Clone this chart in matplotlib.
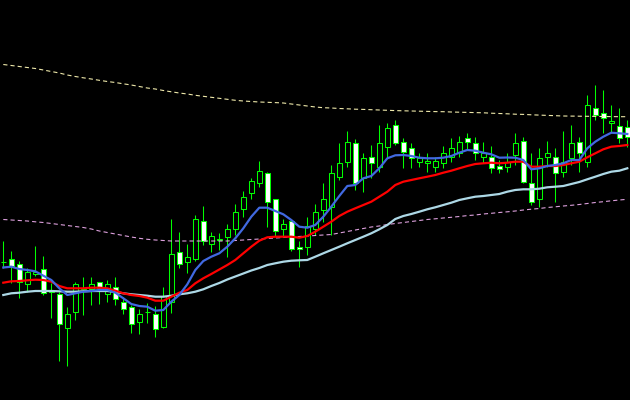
import matplotlib
matplotlib.use("Agg")
import matplotlib.pyplot as plt
from matplotlib.patches import Rectangle

# ---- data (price units, higher = up) ----
opens = [138, 140.7, 135.7, 115.7, 125.7, 130.7, 108.5, 105.7, 72.3, 87.7,
         111, 111, 117.7, 105.7, 112.7, 97.7, 92.7, 77.7, 88, 85.7,
         72.7, 98, 148.3, 138.3, 140.7, 178.7, 155.7, 160.5, 163.3, 170.7,
         190.7, 206.7, 216.7, 226.7, 200.7, 170.7, 179.3, 153.5, 153.5, 171.5,
         190.5, 193.5, 223.3, 238.3, 256.7, 221.7, 243.3, 233.3, 253.3, 275,
         258.3, 251.7, 238.3, 236.7, 233.3, 236.7, 243.3, 247.3, 261.7, 256.7,
         243.3, 243.5, 234, 233.3, 245, 259, 216.7, 200.7, 243.3, 243.3,
         228.3, 241.7, 258.3, 238.3, 291.7, 286.7, 276.7, 274.3, 273.3]
highs = [159, 149, 139, 132, 154, 144, 117, 108.5, 93, 118.3,
         123, 123, 118.5, 120, 123, 103.3, 95, 90.7, 97.3, 94,
         112.7, 181, 168.3, 156, 185, 194, 168, 166.7, 176, 196,
         209, 222, 239, 228.3, 201, 180.7, 180, 159, 183.3, 196,
         217, 235, 257, 269, 261, 247, 255, 275, 277, 280,
         262, 256.7, 246.7, 247, 243.3, 254, 261.7, 264, 266.7, 263.5,
         258.3, 254, 240, 246.7, 267.3, 263.3, 246.7, 251.7, 259, 251.7,
         269, 275, 262.7, 305, 315, 310, 295, 291.7, 280]
lows = [132, 117, 102, 108.5, 124.5, 105, 82.3, 39.5, 34.3, 80,
        85, 95, 95.7, 98, 95, 85.7, 67.3, 65.7, 77.3, 62.7,
        72, 87.3, 131.7, 126.7, 139, 155, 148.3, 150, 143.3, 165,
        183.3, 200.7, 212.7, 173.3, 164, 164, 149, 133.3, 145, 165,
        178, 165, 220, 233.5, 210, 208.5, 222, 228, 243, 255,
        232, 231.7, 233.3, 228.3, 228.3, 231.7, 238.3, 243.3, 250, 240,
        236.7, 226.7, 227.3, 228.3, 235, 217, 195.5, 193.3, 232.7, 198.3,
        223.3, 235, 228.3, 233.3, 280, 266.7, 266.7, 256.7, 253.3]
closes = [138.5, 134, 118.3, 127.7, 128.3, 107.3, 110.5, 75.7, 85.7, 115.7,
          112, 115.7, 112, 115.7, 100.7, 90.7, 75.7, 85.7, 88.5, 70.7,
          104.3, 145.7, 135.7, 143.5, 180.7, 159, 164, 161, 170.7, 188.5,
          203.3, 218.7, 228.7, 198, 169, 176, 150.7, 150.7, 173.7, 188.5,
          200.7, 227, 236.7, 258.3, 216.7, 241.7, 236.7, 256.7, 271.7, 256.7,
          248.3, 241.7, 241.7, 239, 239, 246.7, 251.7, 258.3, 258.3, 246.7,
          246.7, 231.7, 230.7, 238.5, 256.7, 218.3, 198.3, 241.7, 246.7, 226.7,
          238.3, 256.7, 246.7, 295, 285, 281.7, 279.3, 261.7, 263.3]

ma_fast = [132.5, 133.3, 131, 130, 128.7, 124.3, 120, 111.7, 105, 106.7,
           108.3, 109, 110, 110, 107.3, 101.7, 96, 94, 93.3, 89.3,
           90, 98.3, 105, 115.7, 130, 139, 143.3, 146.7, 153.3, 161.7,
           171.7, 183.3, 192.3, 192.3, 189, 185.7, 180, 173.3, 172.3, 175,
           183.3, 193.3, 204, 214, 215, 221.7, 224, 231.7, 241.7, 244.7,
           245, 244, 242.3, 241.7, 241.7, 242.3, 244, 247.3, 250, 249.3,
           247.3, 245.7, 242.3, 242.5, 242.3, 240, 230.7, 231.7, 234, 235,
           236.7, 240, 240, 251.7, 258.3, 263.3, 267.3, 266.7, 266]
ma_mid = [117.3, 118.7, 119, 119.7, 120.3, 120, 118.3, 114, 111.7, 111.7,
          111.7, 112.3, 112.3, 111.7, 109.3, 106.7, 105, 104, 102.3, 99.3,
          99.3, 103.3, 107.3, 110, 116.7, 121.7, 126, 130.5, 135, 140,
          146.7, 153.3, 159.3, 162.7, 163.3, 163.3, 163.3, 162.3, 164, 168.3,
          173.3, 178.3, 184, 188.3, 191.7, 195, 198.3, 203.3, 208.3, 215,
          218.3, 220, 221.7, 223.3, 225, 227.3, 229.3, 231.7, 234, 236,
          236.7, 237.3, 236.7, 237.3, 238.3, 238.3, 233.3, 233.3, 234, 234,
          235, 236.7, 238.3, 242.7, 246.7, 250.7, 253.3, 254, 255]
ma_slow = [105, 106.7, 107.3, 108.3, 109, 109, 109, 108.7, 108.3, 108.3,
           108.7, 109, 109, 109, 108, 106.7, 105.7, 105, 104.3, 103.3,
           103.3, 104.3, 105.7, 106.7, 108.3, 110.7, 114, 117, 120.5, 123.5,
           126.5, 129.5, 132, 135, 136.7, 138.3, 139.3, 139.7, 140, 143.3,
           146.7, 150, 153.3, 156.7, 160, 163.3, 166.7, 170.7, 175, 181,
           184, 186, 188.3, 190.7, 192.7, 195, 197.3, 200, 201.7, 203.3,
           204, 205, 206, 208.3, 210, 210.7, 210.7, 211.3, 212.7, 213.3,
           214, 216, 218, 220.7, 223.3, 226, 228.3, 229.3, 231.7]
band_upper = [335.5, 334.5, 333.5, 332.5, 331.5, 330, 328.5, 327, 325, 323.5,
              322.2, 321, 319.7, 318.5, 317.5, 316.2, 315, 313.5, 312, 311,
              309.5, 308.2, 307, 306, 304.7, 303.7, 302.7, 301.7, 300.7, 299.7,
              299, 298.5, 298, 297.7, 297.4, 297, 296, 295, 294, 293,
              292.3, 292, 291.5, 291.2, 290.8, 290.6, 290.3, 290, 289.7, 289.4,
              289.2, 289, 288.8, 288.6, 288.4, 288.3, 288, 287.8, 287.6, 287.4,
              287.2, 286.8, 286.5, 286.2, 285.8, 285.6, 285.2, 284.9, 284.6, 284.3,
              284, 283.9, 283.8, 283.7, 283.6, 283.5, 283.4, 283.3, 283.3]
band_lower = [180.5, 180, 179.5, 179, 178.2, 177.5, 176.5, 175.5, 174.5, 173.5,
              172.5, 171, 169, 167.5, 166, 164.5, 163, 161.7, 160.7, 160,
              159.5, 159, 159, 159, 159, 159, 159, 159, 159, 159.5,
              160, 160.5, 161, 161.5, 162, 162.5, 163, 163.5, 164, 164.5,
              165, 165.5, 167, 168.5, 170, 171.5, 173, 174, 175.5, 176.5,
              177.5, 178.5, 179.5, 180.5, 181.2, 182, 182.7, 183.5, 184.4, 185,
              186, 186.7, 187.5, 188.2, 189, 190, 190.8, 191.5, 192.5, 193.2,
              194, 194.7, 195.5, 196.5, 197.5, 198.3, 199.2, 200, 200.7]

# ---- drawing ----
plt.rcParams['lines.scale_dashes'] = False
fig = plt.figure(figsize=(6.3, 4.0), dpi=100, facecolor='black')
ax = fig.add_axes([0, 0, 1, 1])
ax.set_facecolor('black')
ax.set_axis_off()

n = len(opens)
xs = list(range(n))
green = '#00ff00'
body_w = 0.6

for i in xs:
    o, h, l, c = opens[i], highs[i], lows[i], closes[i]
    ax.plot([i, i], [l, h], color=green, lw=0.75, zorder=2, solid_capstyle='butt')
    bottom = min(o, c)
    height = max(abs(c - o), 0.4)
    face = 'black' if c >= o else 'white'
    ax.add_patch(Rectangle((i - body_w / 2, bottom), body_w, height,
                           facecolor=face, edgecolor=green, lw=0.75, zorder=3))

ax.plot(xs, band_upper, color='#eee8aa', lw=0.8, dashes=(3, 2.2), zorder=4)
ax.plot(xs, band_lower, color='#dda0dd', lw=0.8, dashes=(3, 2.2), zorder=4)
ax.plot(xs, ma_slow, color='#add8e6', lw=1.6, zorder=5)
ax.plot(xs, ma_mid, color='#ff0000', lw=1.6, zorder=6)
ax.plot(xs, ma_fast, color='#4169e1', lw=1.6, zorder=7)

xmin = -3.3 / 8
ax.set_xlim(xmin, xmin + 630 / 8)
ax.set_ylim(0, 400)

fig.savefig('out.png', dpi=100, facecolor='black')
